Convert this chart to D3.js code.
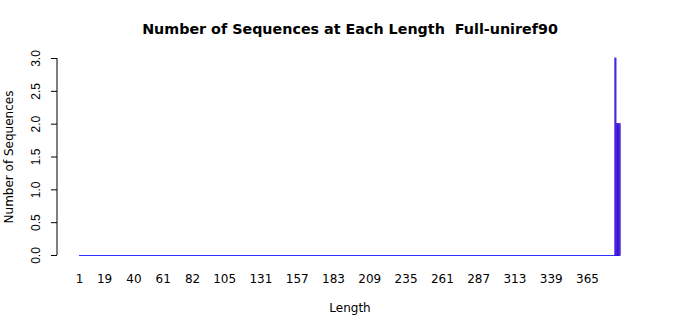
<!DOCTYPE html>
<html>
<head>
<meta charset="utf-8">
<script src="https://cdn.jsdelivr.net/npm/d3@7"></script>
<style>
  body { margin: 0; background: #fff; }
  svg { font-family: "DejaVu Sans", sans-serif; }
</style>
</head>
<body>
<div class="svg-container"></div>
<script>
// data: sequence lengths 1..388, only the last few have counts
const nLengths = 388;
const lengths = d3.range(1, nLengths + 1);
const nonZeroLengths = [385, 386, 387, 388];
const nonZeroCounts = [3, 2, 2, 2];
const counts = lengths.map(l => {
    const i = nonZeroLengths.indexOf(l);
    return i < 0 ? 0 : nonZeroCounts[i];
});
const xTickLabels = [1, 19, 40, 61, 82, 105, 131, 157, 183, 209, 235, 261, 287, 313, 339, 365];
const yTicks = [0, 0.5, 1, 1.5, 2, 2.5, 3];

const w = 700;
const h = 315;
const plot = {left: 78.8, right: 620.3, top: 58, bottom: 255};

const svg = d3.select(".svg-container")
    .append("svg")
    .attr("width", w)
    .attr("height", h);

const x = d3.scaleBand()
    .domain(lengths)
    .range([plot.left, plot.right])
    .paddingInner(0.17)
    .paddingOuter(0.08);

const y = d3.scaleLinear()
    .domain([0, 3])
    .range([plot.bottom, plot.top]);

// bars (zero bars show as the border line along the baseline)
svg.append("line")
    .attr("x1", x(1)).attr("x2", x(nLengths) + x.bandwidth())
    .attr("y1", y(0) + 0.5).attr("y2", y(0) + 0.5)
    .style("stroke", "#3030ff").style("stroke-width", 1);

svg.selectAll("rect.bar")
    .data(lengths.filter((d, i) => counts[i] > 0))
    .enter().append("rect")
    .attr("class", "bar")
    .attr("x", d => x(d))
    .attr("width", x.bandwidth())
    .attr("y", d => y(counts[d - 1]))
    .attr("height", d => y(0) - y(counts[d - 1]))
    .style("fill", "#6a5cf0")
    .style("stroke", "#3000d0")
    .style("stroke-width", 0.8);

// y axis
const yAxis = svg.append("g")
    .attr("transform", "translate(57,0)")
    .call(d3.axisLeft(y).tickValues(yTicks).tickFormat(d3.format(".1f")).tickSize(6).tickSizeOuter(0));
yAxis.select(".domain").attr("d", `M0,${y(0)}V${y(3)}`).style("stroke", "#000");
yAxis.selectAll(".tick line").style("stroke", "#000");
yAxis.selectAll(".tick text")
    .attr("x", 0).attr("dy", 0)
    .attr("transform", "translate(-17,0) rotate(-90)")
    .style("text-anchor", "middle")
    .style("font-size", "12px")
    .style("fill", "#000");

// x tick labels (no axis line)
svg.selectAll("text.xlab")
    .data(xTickLabels)
    .enter().append("text")
    .attr("class", "xlab")
    .attr("x", d => x(d) + x.bandwidth() / 2)
    .attr("y", 283)
    .style("text-anchor", "middle")
    .style("font-size", "12px")
    .text(d => d);

// titles
svg.append("text")
    .attr("x", 350).attr("y", 34)
    .style("text-anchor", "middle")
    .style("white-space", "pre")
    .style("font-size", "14.3px").style("font-weight", "bold")
    .text("Number of Sequences at Each Length  Full-uniref90");

svg.append("text")
    .attr("x", 350).attr("y", 312)
    .style("text-anchor", "middle")
    .style("font-size", "12px")
    .text("Length");

svg.append("text")
    .attr("transform", "translate(13,157) rotate(-90)")
    .style("text-anchor", "middle")
    .style("font-size", "12px")
    .text("Number of Sequences");
</script>
</body>
</html>
